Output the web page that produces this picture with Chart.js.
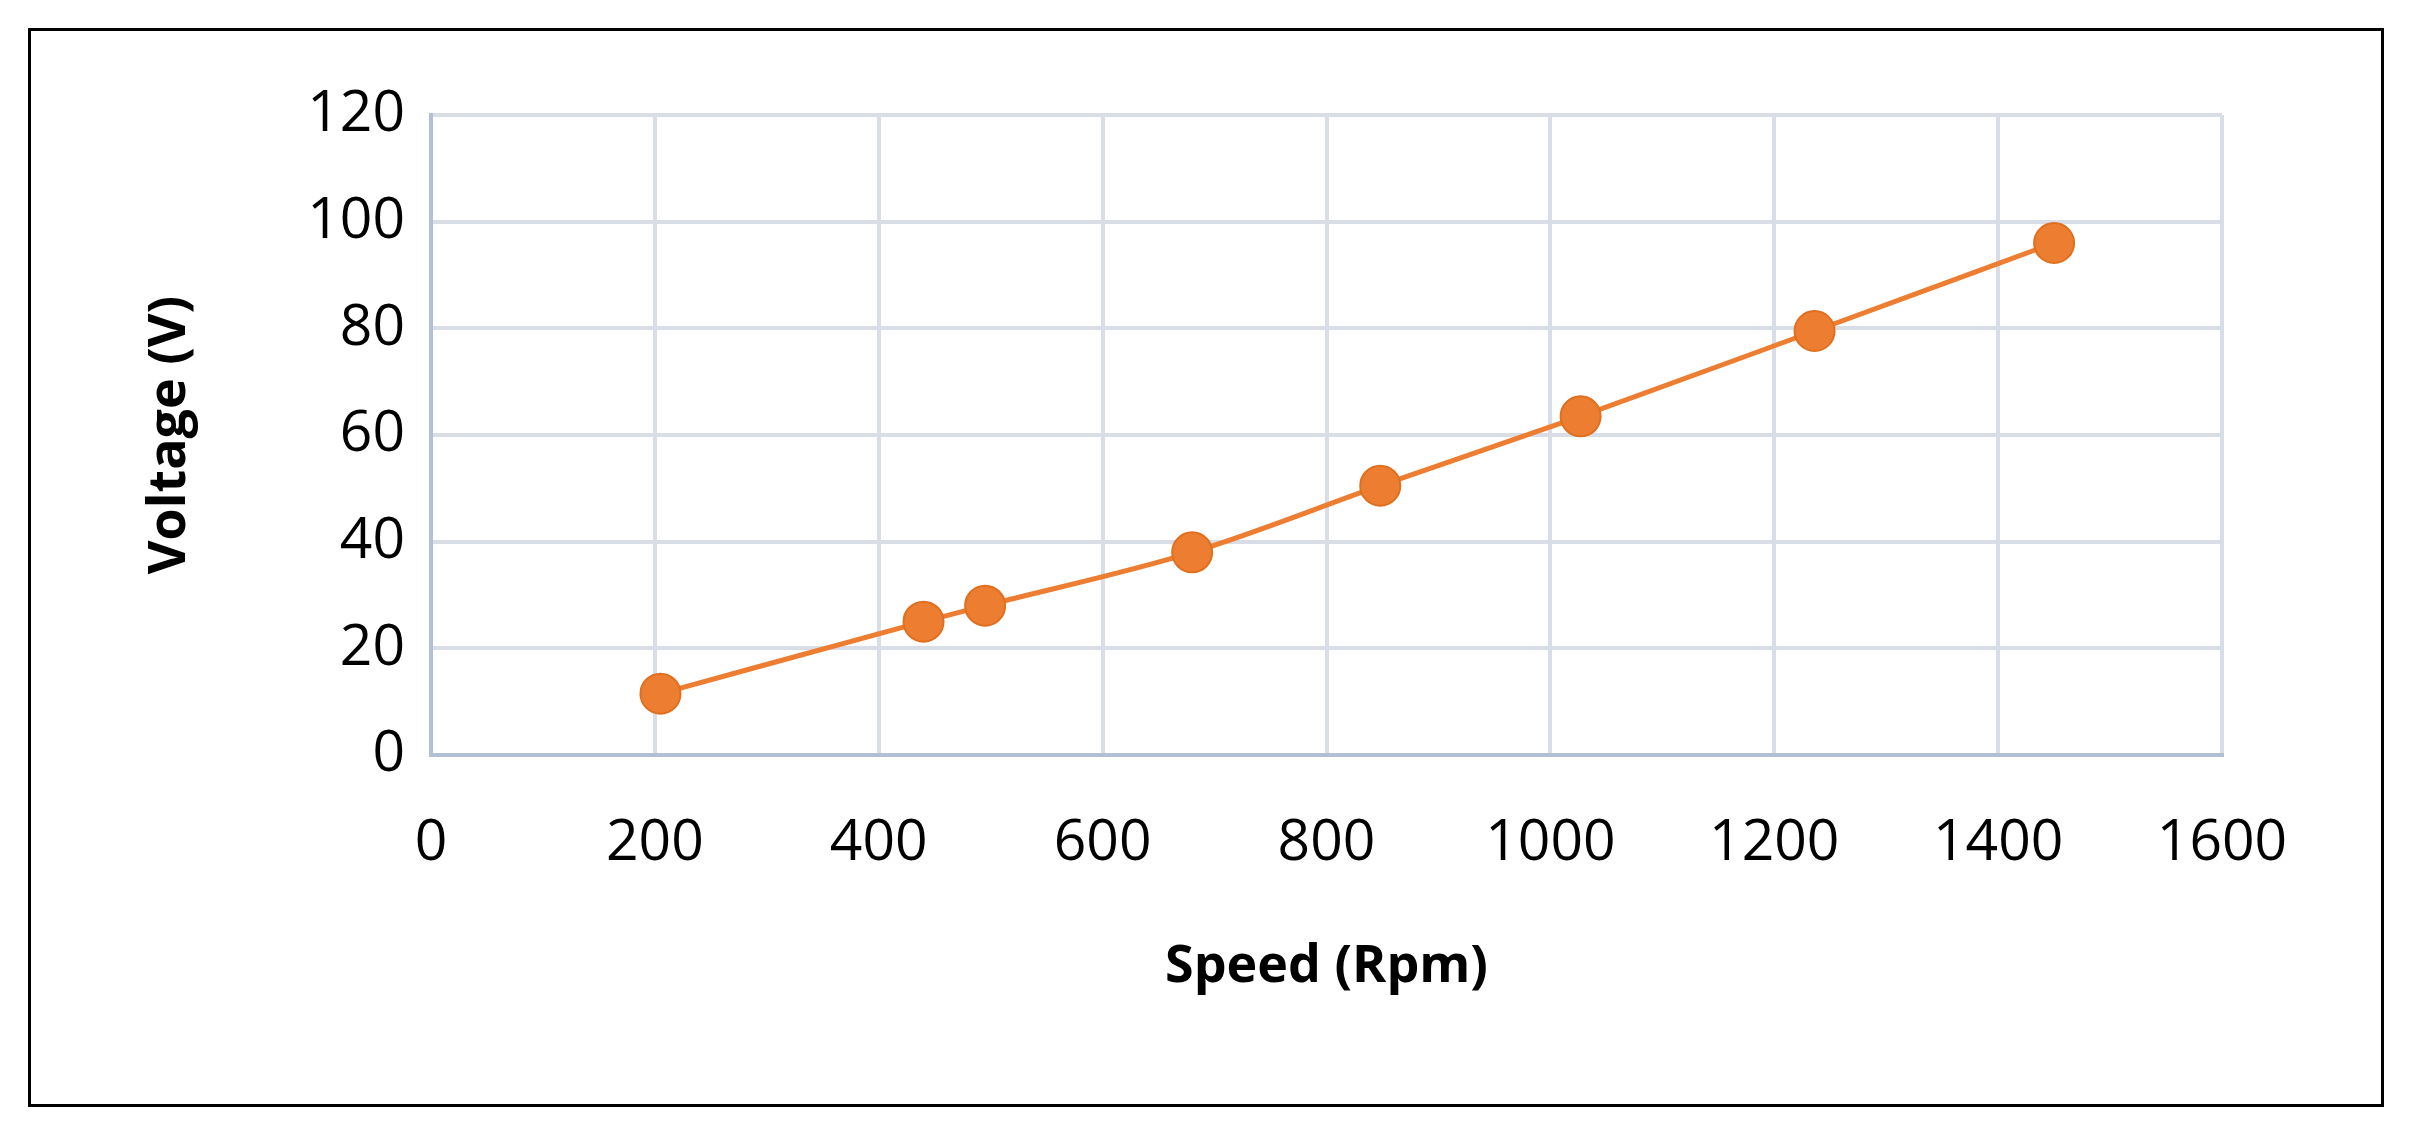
<!DOCTYPE html>
<html><head><meta charset="utf-8">
<script src="https://cdn.jsdelivr.net/npm/chart.js@4"></script>
<style>
html,body{margin:0;padding:0;background:#fff;}
#wrap{position:absolute;left:0;top:0;width:2415px;height:1142px;}
#frame{position:absolute;left:28px;top:28px;width:2356px;height:1079px;border:3px solid #000;box-sizing:border-box;pointer-events:none;}
</style></head><body>
<div id="wrap"><canvas id="c" width="2415" height="1142"></canvas></div>
<div id="frame"></div>
<script>
const speeds = [205, 440, 495, 680, 848, 1027, 1236, 1450];
const voltages = [11.5, 25, 28, 38, 50.5, 63.5, 79.5, 96];
const xTitle = 'Speed (Rpm)';
const yTitle = 'Voltage (V)';
const pts = speeds.map((s,i)=>({x:s,y:voltages[i]}));
const font = "'Open Sans', sans-serif";
new Chart(document.getElementById('c'),{
  type:'scatter',
  data:{datasets:[{data:pts,showLine:true,borderColor:'#ED7D31',borderWidth:5,
    backgroundColor:'#ED7D31',pointBorderColor:'#E0701F',pointBorderWidth:2,pointRadius:20,
    cubicInterpolationMode:'monotone'}]},
  options:{responsive:false,animation:false,
    plugins:{legend:{display:false},tooltip:{enabled:false}},
    layout:{padding:{left:135,right:193,top:115,bottom:140}},
    scales:{
      x:{type:'linear',min:0,max:1600,
        ticks:{stepSize:200,color:'#000',font:{family:font,size:57},padding:55,callback:v=>String(v)},
        grid:{color:'#D9DDE6',lineWidth:4,drawTicks:false},
        border:{color:'#B3BFD6',width:4},
        title:{display:true,text:xTitle,color:'#000',font:{family:font,size:52,weight:'bold'},padding:{top:35}},
        afterFit(s){s.height=247;}},
      y:{min:0,max:120,
        ticks:{stepSize:20,color:'#000',font:{family:font,size:57},padding:26,callback:v=>String(v)},
        grid:{color:'#D9DDE6',lineWidth:4,drawTicks:false},
        border:{color:'#B3BFD6',width:4},
        title:{display:true,text:yTitle,color:'#000',font:{family:font,size:52,weight:'bold'},padding:{bottom:30}},
        afterFit(s){s.width=296;}}
    }}
});
</script></body></html>
